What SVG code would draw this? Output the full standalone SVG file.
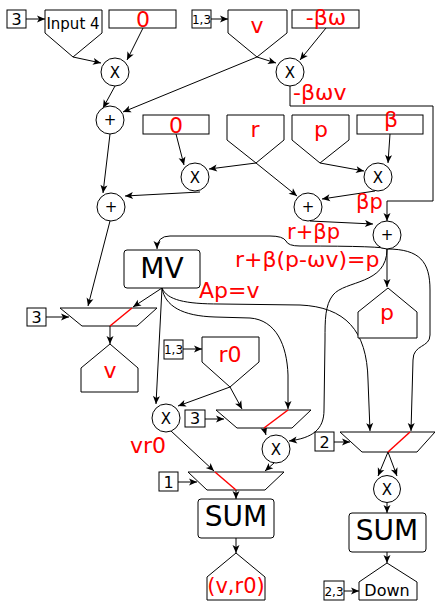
<svg xmlns="http://www.w3.org/2000/svg" width="435" height="601" viewBox="0 0 435 601">
<style>
.s{fill:#fff;stroke:#000;stroke-width:1}
.e{fill:none;stroke:#000;stroke-width:1}
.a{marker-end:url(#ar)}
.sel{fill:none;stroke:#f00;stroke-width:1.5}
text{font-family:"DejaVu Sans",sans-serif}
.r{fill:#f00;font-size:22px;text-anchor:middle}
.rl{fill:#f00;font-size:22px}
.k{fill:#000;font-size:16px;text-anchor:middle}
.ks{fill:#000;font-size:12px;text-anchor:middle}
.op{fill:#000;font-size:15px;text-anchor:middle}
.big{fill:#000;font-size:28px;text-anchor:middle}
</style>
<defs>
<marker id="ar" viewBox="-9 -5 10 10" refX="0" refY="0" markerWidth="10" markerHeight="10" markerUnits="userSpaceOnUse" orient="auto">
<path d="M0,0 L-8,-3.5 L-6,0 L-8,3.5 Z" fill="#000"/>
</marker>
</defs>

<g id="connectors">
<path class="e a" d="M26,19 H45"/>
<path class="e a" d="M211,19 H228"/>
<path class="e a" d="M73,57 L101,63"/>
<path class="e a" d="M143,28 L127,60"/>
<path class="e a" d="M257,57 L276,63"/>
<path class="e a" d="M326,28 L300,60"/>
<path class="e a" d="M257,57 L123,112"/>
<path class="e a" d="M115,86 L103,108"/>
<path class="e a" d="M290,86 V106 H433 V201 H387 V221"/>
<path class="e a" d="M176,134 L184,165"/>
<path class="e a" d="M256,163 L209,169"/>
<path class="e a" d="M256,163 L297,196"/>
<path class="e a" d="M320,163 L364,171"/>
<path class="e a" d="M390,134 L388,163"/>
<path class="e a" d="M375,191 L322,199"/>
<path class="e a" d="M310,221 L373,224"/>
<path class="e a" d="M200,192 L125,196"/>
<path class="e a" d="M110,134 L103,193"/>
<path class="e a" d="M110,221 L88,306"/>
<path class="e a" d="M387,249 Q386,246 300,246 Q288,246 286,241 Q283,236 270,236 H170 Q157,236 157,249"/>
<path class="e a" d="M387,249 C420,249 430,262 430,290 V335 C430,348 413,344 413,360 L411,431"/>
<path class="e a" d="M387,249 V287"/>
<path class="e a" d="M387,249 C387,285 345,280 333,295 C325,305 325,320 325,340 L324,410 C324,430 312,438 289,441"/>
<path class="e a" d="M162,288 L133,307"/>
<path class="e a" d="M162,288 L156,404"/>
<path class="e a" d="M162,288 C167,300 185,304 220,304 L300,305 C345,307 367,330 368,380 L370,431"/>
<path class="e a" d="M162,288 C165,306 182,316 215,317 L250,318 C276,320 287,345 288,375 L288,409"/>
<path class="e a" d="M230,387 L178,406"/>
<path class="e a" d="M230,387 L242,409"/>
<path class="e a" d="M171,431 L214,471"/>
<path class="e a" d="M274,463 L265,471"/>
<path class="e a" d="M178,482 H197"/>
<path class="e a" d="M205,419 H224"/>
<path class="e a" d="M46,317 H69"/>
<path class="e a" d="M334,442 H350"/>
<path class="e a" d="M183,349 H202"/>
<path class="e a" d="M110,326 V344"/>
<path class="e a" d="M264,428 L266,435"/>
<path class="e a" d="M236,490 V499"/>
<path class="e a" d="M388,452 L378,476"/>
<path class="e a" d="M388,452 L397,476"/>
<path class="e a" d="M387,502 V513"/>
<path class="e a" d="M236,538 V553"/>
<path class="e a" d="M387,552 V563"/>
<path class="e a" d="M344,591 H359"/>
</g>

<g id="n-box3a"><rect class="s" x="7" y="10" width="19" height="18"/><text class="k" x="16.5" y="25">3</text></g>
<g id="n-input4"><path class="s" d="M45,10 H102 V33 L73,57 L45,33 Z"/><text x="73" y="29" style="font-size:15px;text-anchor:middle">Input 4</text></g>
<g id="n-zero1"><rect class="s" x="109" y="10" width="67" height="18"/><text class="r" x="143" y="27">0</text></g>
<g id="n-box13a"><rect class="s" x="192" y="10" width="19" height="18"/><text class="ks" x="201.5" y="24">1,3</text></g>
<g id="n-vtop"><path class="s" d="M228,10 H287 V33 L257,57 L228,33 Z"/><text class="r" x="257" y="33">v</text></g>
<g id="n-bw"><rect class="s" x="292" y="10" width="67" height="18"/><text class="r" x="326" y="25">-βω</text></g>
<g id="n-x1"><circle class="s" cx="115" cy="72" r="14"/><text class="op" x="115" y="77.5">X</text></g>
<g id="n-x2"><circle class="s" cx="290" cy="72" r="14"/><text class="op" x="290" y="77.5">X</text></g>
<g id="n-p1"><circle class="s" cx="110" cy="120" r="14"/><text class="op" x="110" y="125">+</text></g>
<g id="n-zero2"><rect class="s" x="143" y="115" width="66" height="19"/><text class="r" x="176" y="133">0</text></g>
<g id="n-r"><path class="s" d="M227,115 H284 V140 L256,163 L227,140 Z"/><text class="r" x="255" y="137">r</text></g>
<g id="n-p"><path class="s" d="M292,115 H349 V140 L320,163 L292,140 Z"/><text class="r" x="321" y="137">p</text></g>
<g id="n-beta"><rect class="s" x="357" y="115" width="66" height="19"/><text class="r" x="391" y="127">β</text></g>
<g id="n-x3"><circle class="s" cx="195" cy="177" r="14"/><text class="op" x="195" y="182.5">X</text></g>
<g id="n-x4"><circle class="s" cx="378" cy="177" r="14"/><text class="op" x="378" y="182.5">X</text></g>
<g id="n-p2"><circle class="s" cx="111" cy="207" r="14"/><text class="op" x="111" y="212">+</text></g>
<g id="n-p3"><circle class="s" cx="308" cy="207" r="14"/><text class="op" x="308" y="212">+</text></g>
<g id="n-p4"><circle class="s" cx="387" cy="235" r="14"/><text class="op" x="387" y="240">+</text></g>
<g id="n-mv"><rect class="s" x="124" y="250" width="76" height="38" rx="3"/><text class="big" x="162" y="278">MV</text></g>
<g id="n-box3b"><rect class="s" x="27" y="308" width="19" height="18"/><text class="k" x="36.5" y="323">3</text></g>
<g id="n-mux1"><path class="s" d="M60,308 H157 L137,326 H82 Z"/><path class="sel" d="M132,308 L110,326"/></g>
<g id="n-vout"><path class="s" d="M110,344 L138,368 V392 H81 V368 Z"/><text class="r" x="110" y="378">v</text></g>
<g id="n-pout"><path class="s" d="M388,288 L417,312 V338 H358 V312 Z"/><text class="r" x="387" y="320">p</text></g>
<g id="n-box13b"><rect class="s" x="164" y="340" width="19" height="19"/><text class="ks" x="173.5" y="354">1,3</text></g>
<g id="n-r0"><path class="s" d="M202,337 H259 V362 L230,387 L202,362 Z"/><text class="r" x="230" y="362">r0</text></g>
<g id="n-x5"><circle class="s" cx="166" cy="418" r="14"/><text class="op" x="166" y="423.5">X</text></g>
<g id="n-box3c"><rect class="s" x="185" y="410" width="20" height="17"/><text class="k" x="195" y="424">3</text></g>
<g id="n-mux2"><path class="s" d="M216,410 H311 L292,428 H237 Z"/><path class="sel" d="M288,410 L264,428"/></g>
<g id="n-x6"><circle class="s" cx="276" cy="449" r="14"/><text class="op" x="276" y="454.5">X</text></g>
<g id="n-box2"><rect class="s" x="315" y="432" width="19" height="19"/><text class="k" x="324.5" y="448">2</text></g>
<g id="n-mux3"><path class="s" d="M340,432 H435 L417,452 H362 Z"/><path class="sel" d="M410,432 L388,452"/></g>
<g id="n-box1"><rect class="s" x="159" y="472" width="19" height="19"/><text class="k" x="168.5" y="488">1</text></g>
<g id="n-mux4"><path class="s" d="M188,472 H284 L265,490 H207 Z"/><path class="sel" d="M215,472 L236,490"/></g>
<g id="n-x7"><circle class="s" cx="387" cy="489" r="13.5"/><text class="op" x="387" y="494.5">X</text></g>
<g id="n-sum1"><rect class="s" x="198" y="499" width="76" height="39" rx="3"/><text class="big" x="236" y="526">SUM</text></g>
<g id="n-sum2"><rect class="s" x="349" y="513" width="77" height="39" rx="3"/><text class="big" x="387" y="540">SUM</text></g>
<g id="n-vr0out"><path class="s" d="M236,553 L265,577 V600 H207 V577 Z"/><text class="r" x="236" y="593" style="font-size:21px">(v,r0)</text></g>
<g id="n-box23"><rect class="s" x="324" y="581" width="20" height="19"/><text class="ks" x="334" y="596">2,3</text></g>
<g id="n-down"><path class="s" d="M387,563 L417,582 V600 H359 V582 Z"/><text x="387" y="596" style="font-size:16px;text-anchor:middle">Down</text></g>

<g id="labels">
<text class="rl" x="293" y="100">-βωv</text>
<text class="rl" x="356" y="209" style="font-size:21px">βp</text>
<text class="rl" x="287" y="239" style="font-size:21px">r+βp</text>
<text class="rl" x="235" y="267">r+β(p-ωv)=p</text>
<text class="rl" x="199" y="298">Ap=v</text>
<text class="rl" x="130" y="453">vr0</text>
</g>
</svg>
